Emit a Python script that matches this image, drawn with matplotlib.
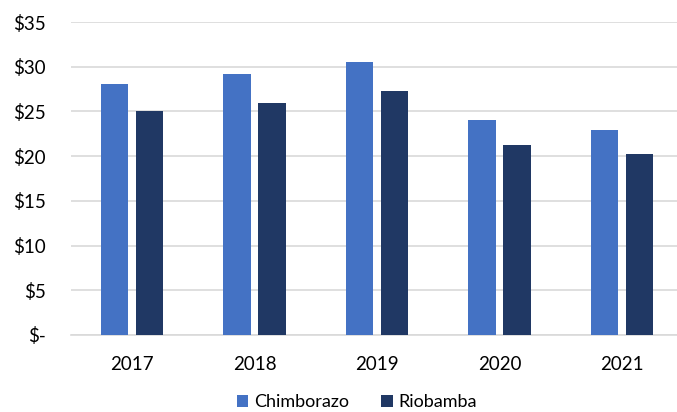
import numpy as np
import matplotlib.pyplot as plt

years = ['2017', '2018', '2019', '2020', '2021']
chimborazo = [28.1, 29.2, 30.5, 24.05, 22.9]
riobamba = [25.05, 25.9, 27.3, 21.3, 20.25]
yticks = [0, 5, 10, 15, 20, 25, 30, 35]
ytick_labels = ['$-', '$5', '$10', '$15', '$20', '$25', '$30', '$35']

plt.rcParams['font.family'] = ['Lato', 'DejaVu Sans']

fig = plt.figure(figsize=(6.77, 4.12), dpi=100)
ax = fig.add_axes([70.8 / 677, 77 / 412, 612.5 / 677, 313 / 412])

x = np.arange(len(years))
w = 0.224
off = 0.143
ax.bar(x - off, chimborazo, w, color='#4472C4', label='Chimborazo', zorder=3)
ax.bar(x + off, riobamba, w, color='#203864', label='Riobamba', zorder=3)

ax.set_xlim(-0.5, 4.5)
ax.set_ylim(0, 35)
ax.set_yticks(yticks)
ax.set_yticklabels(ytick_labels)
ax.set_xticks(x)
ax.set_xticklabels(years)
ax.yaxis.grid(True, color='#D9D9D9', linewidth=1.2)
ax.set_axisbelow(True)
for s in ['top', 'right', 'left']:
    ax.spines[s].set_visible(False)
ax.spines['bottom'].set_color('#D9D9D9')
ax.spines['bottom'].set_linewidth(1.2)
ax.tick_params(axis='y', length=0, pad=18, labelsize=13.5, colors='black')
ax.tick_params(axis='x', length=0, pad=15, labelsize=13.5, colors='black')

fig.legend(loc='lower center', bbox_to_anchor=(0.527, -0.035), ncol=2, frameon=False,
           fontsize=13, handlelength=0.65, handleheight=0.65, handletextpad=0.3,
           columnspacing=1.8)

fig.savefig('out.png', dpi=100)
